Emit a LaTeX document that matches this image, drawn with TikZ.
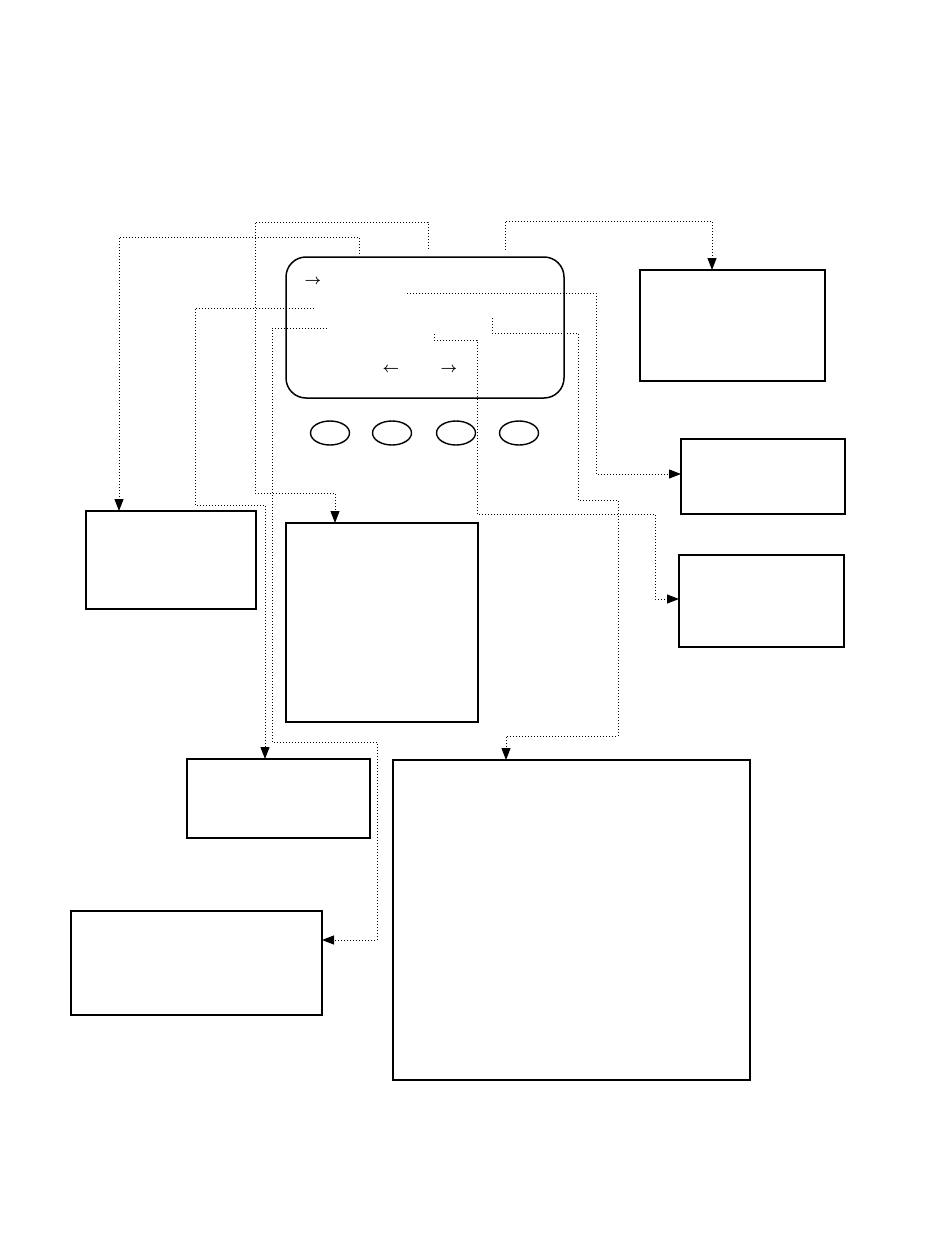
\documentclass[tikz,border=0pt]{standalone}
\usetikzlibrary{arrows.meta,shapes.geometric}
\begin{document}
\begin{tikzpicture}[x=1pt,y=-1pt,
  box/.style={draw,line width=1.8pt,rectangle,inner sep=0pt,outer sep=0pt,anchor=north west},
  screen/.style={draw,line width=1.5pt,rectangle,rounded corners=20pt,inner sep=0pt,outer sep=0pt,anchor=north west,minimum width=278pt,minimum height=141pt},
  knob/.style={draw,line width=1.4pt,ellipse,inner sep=0pt,minimum width=39pt,minimum height=24pt},
  conn/.style={line width=1pt,dash pattern=on 1pt off 2pt},
  tip/.style={conn,-{Triangle[length=12pt,width=9pt]}},
  sym/.style={font=\Large\boldmath,inner sep=0pt}]
\useasboundingbox (0,0) rectangle (950,1260);
% screen and keys
\node[screen] (scr) at (286,257) {};
\node[sym] (r1) at (313,282) {$\rightarrow$};
\node[sym] (l2) at (391,370) {$\leftarrow$};
\node[sym] (r2) at (449,370) {$\rightarrow$};
\foreach \x/\n in {330/k1,392/k2,456/k3,519/k4}
  \node[knob] (\n) at (\x,433) {};
% boxes
\node[box,minimum width=170pt,minimum height=98pt] (A) at (86,511) {};
\node[box,minimum width=192pt,minimum height=199pt] (B) at (286,523) {};
\node[box,minimum width=185pt,minimum height=111pt] (C) at (640,270) {};
\node[box,minimum width=164pt,minimum height=75pt] (D) at (681,439) {};
\node[box,minimum width=183pt,minimum height=79pt] (E) at (187,759) {};
\node[box,minimum width=251pt,minimum height=104pt] (F) at (71,911) {};
\node[box,minimum width=165pt,minimum height=92pt] (G) at (679,555) {};
\node[box,minimum width=357pt,minimum height=320pt] (H) at (393,760) {};
% connector start points
\coordinate (s1) at (359,254);
\coordinate (s2) at (428,249);
\coordinate (s3) at (505,250);
\coordinate (s4) at (407,293);
\coordinate (s5) at (314,308);
\coordinate (s6) at (327,328);
\coordinate (s7) at (434,334);
\coordinate (s8) at (492,318);
% connectors
\draw[tip] (s1) |- (119,237) -- (119,237 |- A.north);
\draw[tip] (s2) |- (255,222) -- (255,493) -- (335,493) -- (335,493 |- B.north);
\draw[tip] (s3) |- (712,221) -- (712,221 |- C.north);
\draw[tip] (s4) -- (596,293) -- (596,474) -- (596,474 -| D.west);
\draw[tip] (s5) -- (195,308) -- (195,505) -- (265,505) -- (265,505 |- E.north);
\draw[tip] (s6) -- (272,328) -- (272,742) -- (377,742) -- (377,940) -- (377,940 -| F.east);
\draw[tip] (s7) |- (477,340) -- (477,514) -- (655,514) -- (655,599) -- (655,599 -| G.west);
\draw[tip] (s8) |- (578,333) -- (578,500) -- (618,500) -- (618,736) -- (506,736) -- (506,736 |- H.north);
\end{tikzpicture}
\end{document}
